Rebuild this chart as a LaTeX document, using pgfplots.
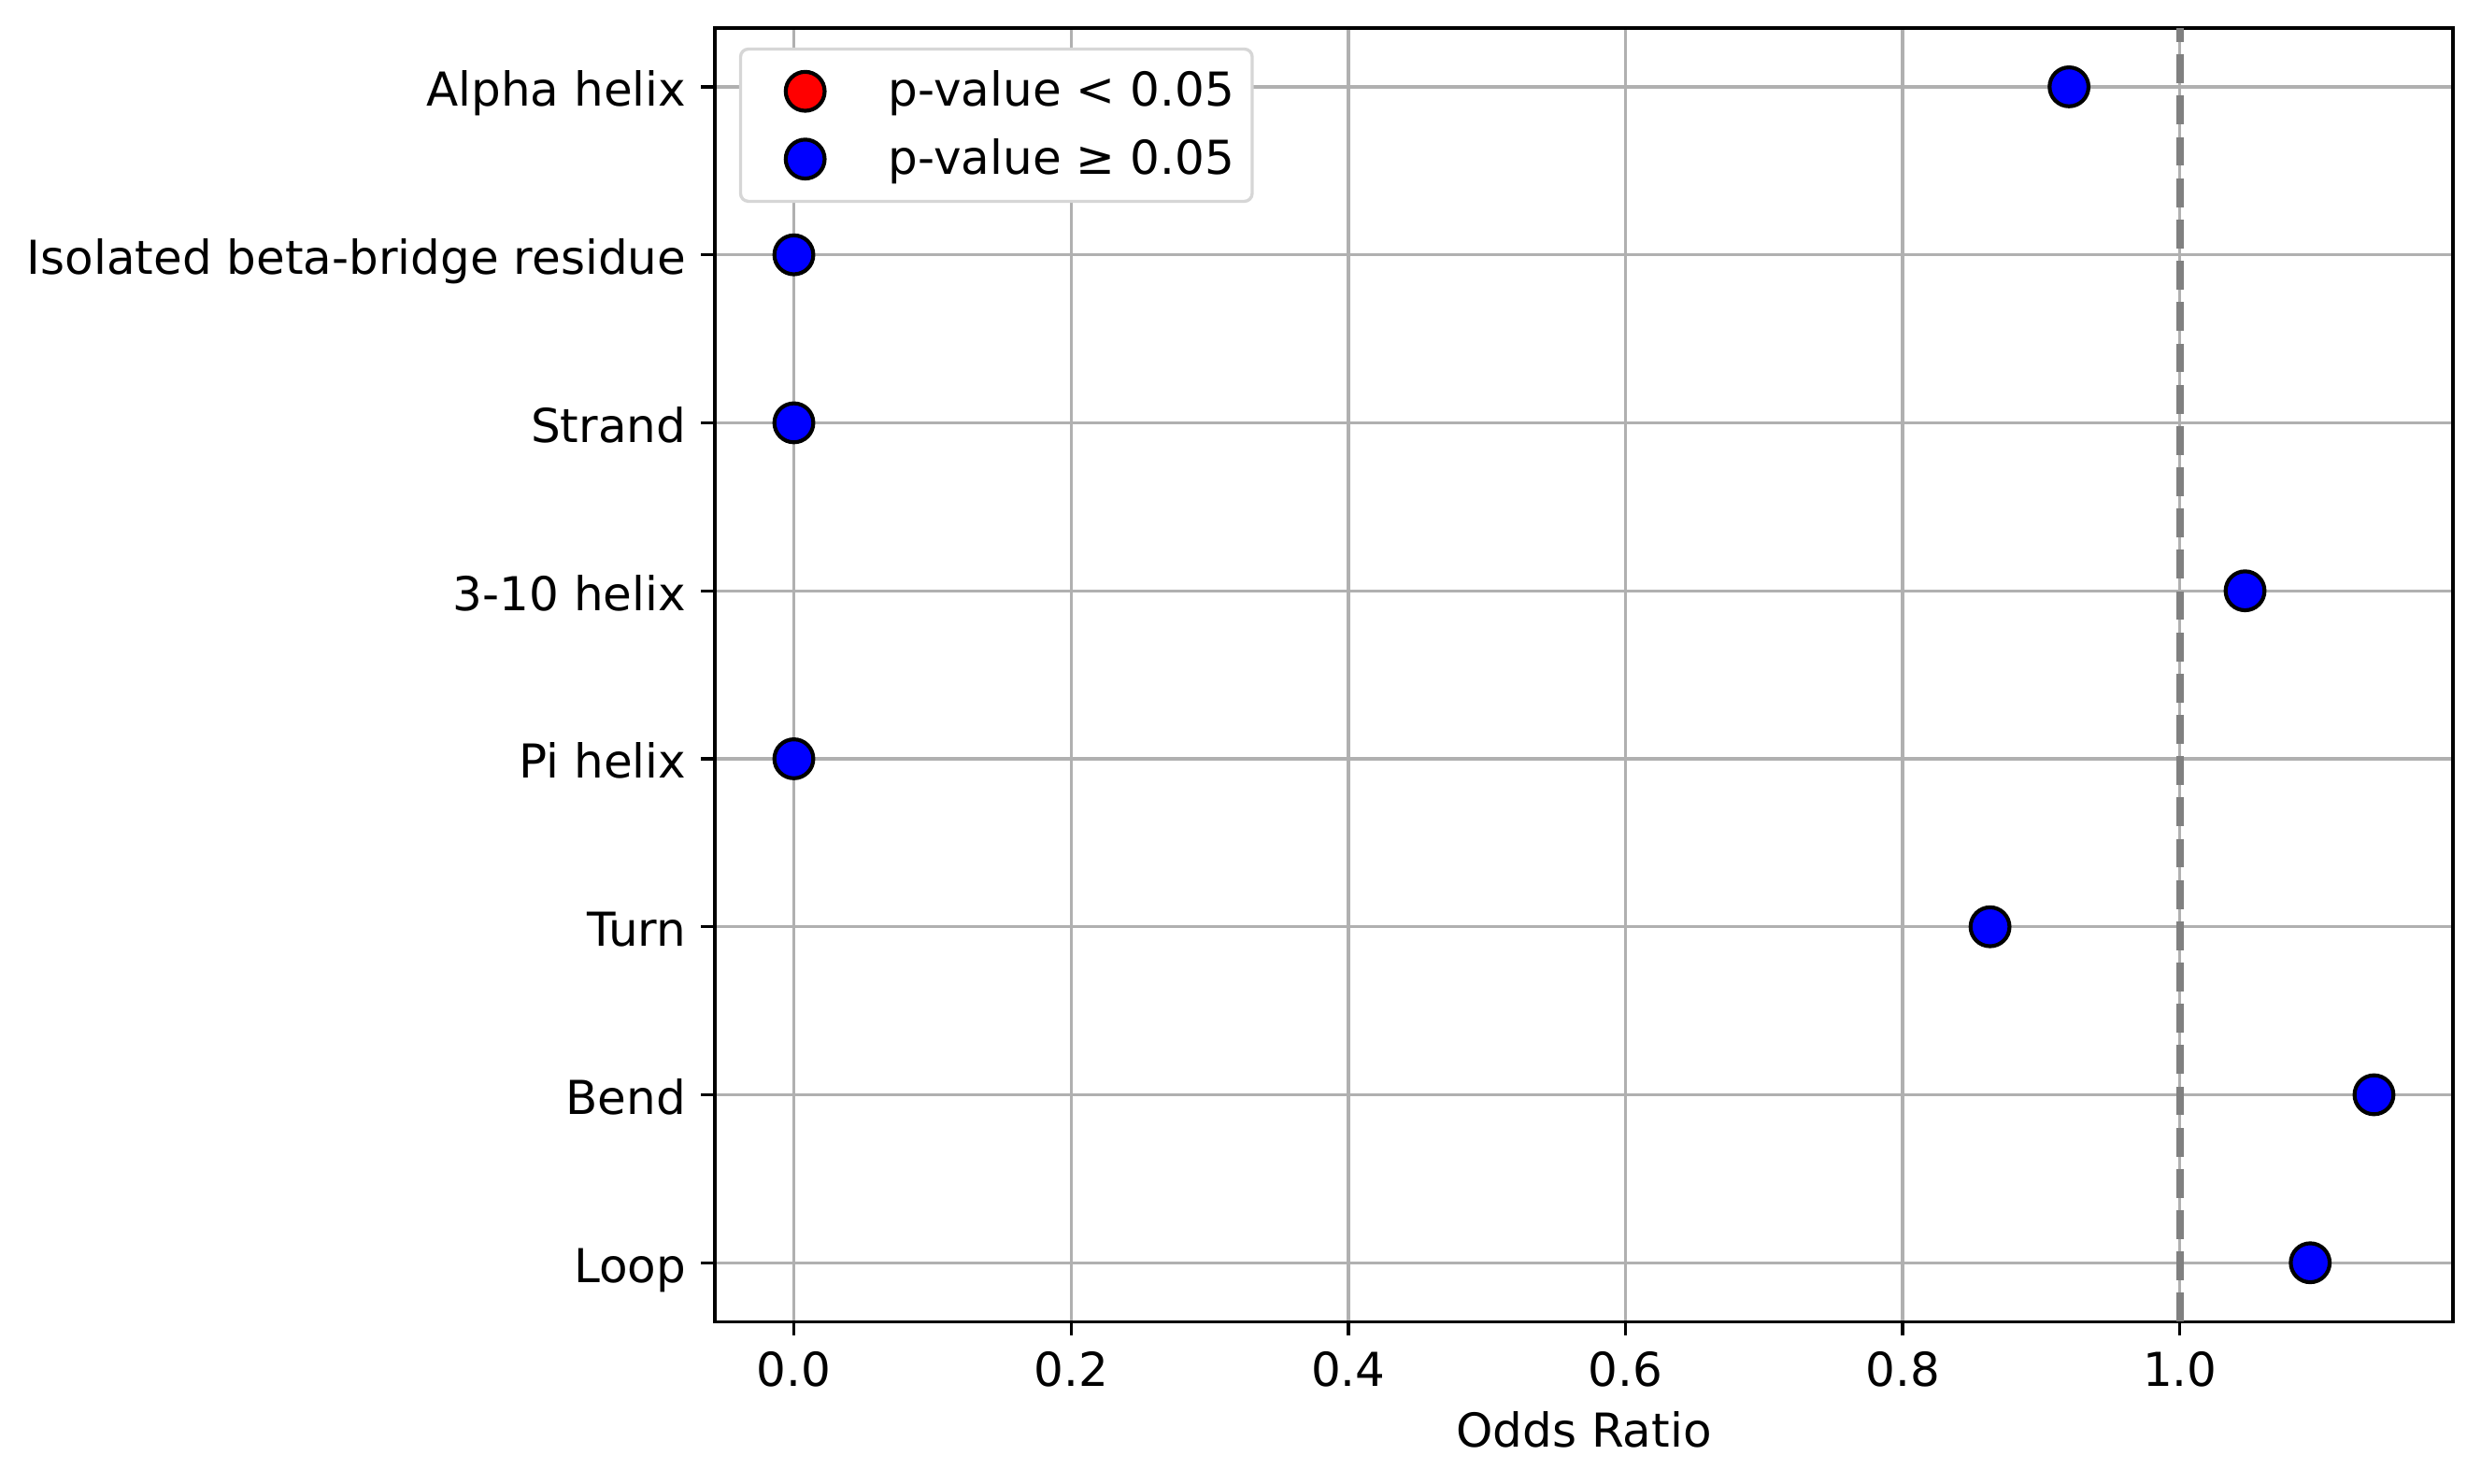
\documentclass[border=0pt]{standalone}
\usepackage{fontspec}
\setmainfont{DejaVu Sans}
\usepackage{pgfplots}
\pgfplotsset{compat=1.18}
\definecolor{gridgray}{HTML}{B0B0B0}
\definecolor{refgray}{HTML}{808080}
\definecolor{leggray}{HTML}{D6D6D6}
\begin{document}
\begin{tikzpicture}[font=\fontsize{12}{14.4}\selectfont]
\path[use as bounding box] (0,0) rectangle (637.2pt,380.9pt);
\begin{axis}[
  at={(183.6pt,41.5pt)}, anchor=south west,
  scale only axis, width=446.4pt, height=332.2pt,
  xmin=-0.057, xmax=1.197, ymin=-0.35, ymax=7.35,
  xtick={0,0.2,0.4,0.6,0.8,1},
  xticklabels={0.0,0.2,0.4,0.6,0.8,1.0},
  ytick={0,1,2,3,4,5,6,7},
  yticklabels={Loop,Bend,Turn,Pi helix,3-10 helix,Strand,Isolated beta-bridge residue,Alpha helix},
  tick pos=left,
  tick align=outside, major tick length=3.5pt,
  tick style={black, line width=0.8pt},
  axis line style={black, line width=0.8pt},
  grid=major, major grid style={gridgray, line width=0.8pt},
  axis on top,
  xticklabel style={anchor=base, inner sep=0pt, yshift=-13.06pt},
  yticklabel style={anchor=base east, inner sep=0pt, xshift=-3.7pt, yshift=-5pt},
  xlabel={Odds Ratio},
  xlabel style={at={(axis description cs:0.5,0)}, anchor=base, inner sep=0pt, yshift=-32.2pt},
  legend style={at={(0,1)}, anchor=north west, xshift=6.2pt, yshift=-5pt,
    draw=leggray, fill=white, rounded corners=2pt, line width=0.8pt,
    inner xsep=4.6pt, inner ysep=4.85pt, row sep=5.4pt,
    /tikz/every odd column/.append style={column sep=9.4pt},
    nodes={inner sep=0pt}},
  legend cell align=left,
  legend image code/.code={\path[draw=none,fill=none] (-12pt,-6pt) rectangle (12pt,6pt);
    \draw[#1] plot coordinates {(0pt,0pt)};},
]
\addlegendimage{only marks, mark=*, mark size=5pt, mark options={fill=red, draw=black, line width=1pt}}
\addlegendentry{p-value < 0.05}
\addlegendimage{only marks, mark=*, mark size=5pt, mark options={fill=blue, draw=black, line width=1pt}}
\addlegendentry{p-value ≥ 0.05}
\addplot[only marks, mark=*, mark size=5pt, mark options={fill=blue, draw=black, line width=1pt}, forget plot]
  table[row sep=\\] {
  x y \\
  0.920 7 \\
  0.000 6 \\
  0.000 5 \\
  1.047 4 \\
  0.000 3 \\
  0.863 2 \\
  1.140 1 \\
  1.094 0 \\
  };
\end{axis}
\begin{axis}[
  at={(183.6pt,41.5pt)}, anchor=south west,
  scale only axis, width=446.4pt, height=332.2pt,
  xmin=-0.057, xmax=1.197, ymin=-0.35, ymax=7.35,
  hide axis,
]
\addplot[refgray, line width=2pt, dash pattern=on 7.4pt off 3.2pt, forget plot]
  coordinates {(1,-0.35) (1,7.35)};
\end{axis}
\end{tikzpicture}
\end{document}
